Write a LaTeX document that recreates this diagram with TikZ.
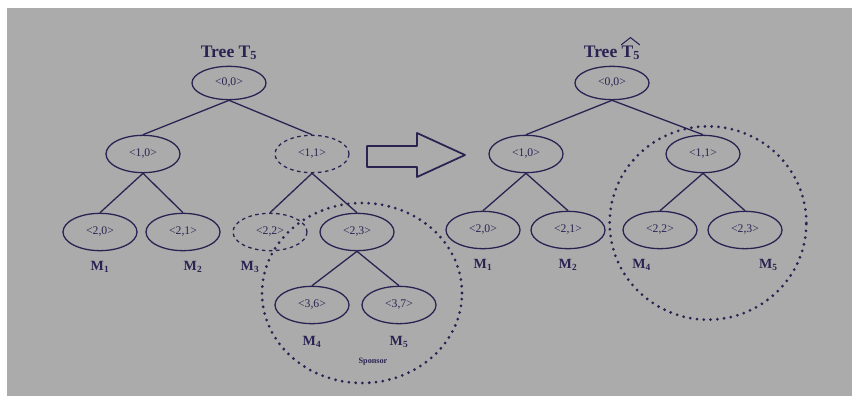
\documentclass[tikz,border=0pt]{standalone}
\usepackage{fontspec}
\setmainfont{Liberation Serif}
\usetikzlibrary{positioning}
\usetikzlibrary{shapes}
\definecolor{ink}{HTML}{2A2352}
\definecolor{slate}{HTML}{ABABAB}
\tikzset{key node/.style={ellipse,draw=ink,line width=1.1pt,minimum width=2.22cm,minimum height=1.12cm,inner sep=0pt,text=ink,font=\fontsize{10}{11}\selectfont},
gone node/.style={key node,dashed},
member/.style={text=ink,inner sep=1pt,font=\bfseries\fontsize{12}{14}\selectfont},
title/.style={text=ink,inner sep=1pt,font=\bfseries\fontsize{15}{17}\selectfont},
subtree/.style={ellipse,draw=ink,line width=2.6pt,dash pattern=on 0pt off 5.8pt,line cap=round,inner sep=0pt},}

\begin{document}
\begin{tikzpicture}[x=0.03cm,y=-0.03cm,thick]
    \useasboundingbox (0,0) rectangle (852,396);
    \fill[white] (0,0) rectangle (852,396);
    \fill[slate] (7,8) rectangle (852,396);

    % tree before the leave
    \node[key node,minimum height=1cm] (l00) at (229,83) {<0,0>};
    \node[key node] (l10) at (143,154) {<1,0>};
    \node[gone node] (l11) at (312,154) {<1,1>};
    \node[key node] (l20) at (100,232) {<2,0>};
    \node[key node] (l21) at (183,232) {<2,1>};
    \node[gone node] (l22) at (270,232) {<2,2>};
    \node[key node] (l23) at (357,232) {<2,3>};
    \node[key node] (l36) at (312,305) {<3,6>};
    \node[key node] (l37) at (399,305) {<3,7>};
    \node[title] (tl) [above=0.12cm of l00] {Tree T\textsubscript{5}};

    \node[member] (lm1) [below=0.25cm of l20] {M\textsubscript{1}};
    \node[member] (lm2) [below=0.25cm of l21, xshift=0.3cm] {M\textsubscript{2}};
    \node[member] (lm3) [below=0.25cm of l22, xshift=-0.6cm] {M\textsubscript{3}};
    \node[member] (lm4) [below=0.3cm of l36] {M\textsubscript{4}};
    \node[member] (lm5) [below=0.3cm of l37] {M\textsubscript{5}};
    \node[text=ink,font=\bfseries\fontsize{7}{8}\selectfont] (spon) at (373,362) {Sponsor};
    \node[subtree,minimum width=6cm,minimum height=5.4cm] (grpl) at (362,293) {};

    \path[draw=ink,line width=1.1pt]
    (l00.south) edge (l10.north)
    (l00.south) edge (l11.north)
    (l10.south) edge (l20.north)
    (l10.south) edge (l21.north)
    (l11.south) edge (l22.north)
    (l11.south) edge (l23.north)
    (l23.south) edge (l36.north)
    (l23.south) edge (l37.north);

    % block arrow between the two trees
    \draw[ink,line width=1.5pt,line join=round] (367,146) -- (417,146) -- (417,133) -- (465,155)
        -- (417,177) -- (417,167) -- (367,167) -- cycle;

    % tree after the leave
    \node[key node,minimum height=1cm] (r00) at (612,83) {<0,0>};
    \node[key node] (r10) at (526,154) {<1,0>};
    \node[key node] (r11) at (703,154) {<1,1>};
    \node[key node] (r20) at (483,230) {<2,0>};
    \node[key node] (r21) at (568,230) {<2,1>};
    \node[key node] (r22) at (660,230) {<2,2>};
    \node[key node] (r23) at (745,230) {<2,3>};
    \node[title] (tr) [above=0.12cm of r00] {Tree T\textsubscript{5}};
    % hat over the T
    \draw[ink,line width=0.9pt,line join=round] ([xshift=-0.62cm,yshift=-0.02cm]tr.north east)
        -- ([xshift=-0.34cm,yshift=0.2cm]tr.north east) -- ([xshift=-0.06cm,yshift=-0.02cm]tr.north east);

    \node[member] (rm1) [below=0.25cm of r20] {M\textsubscript{1}};
    \node[member] (rm2) [below=0.25cm of r21] {M\textsubscript{2}};
    \node[member] (rm4) [below=0.25cm of r22, xshift=-0.55cm] {M\textsubscript{4}};
    \node[member] (rm5) [below=0.25cm of r23, xshift=0.7cm] {M\textsubscript{5}};
    \node[subtree,minimum width=5.9cm,minimum height=5.8cm] (grpr) at (708,223) {};

    \path[draw=ink,line width=1.1pt]
    (r00.south) edge (r10.north)
    (r00.south) edge (r11.north)
    (r10.south) edge (r20.north)
    (r10.south) edge (r21.north)
    (r11.south) edge (r22.north)
    (r11.south) edge (r23.north);
\end{tikzpicture}
\end{document}
